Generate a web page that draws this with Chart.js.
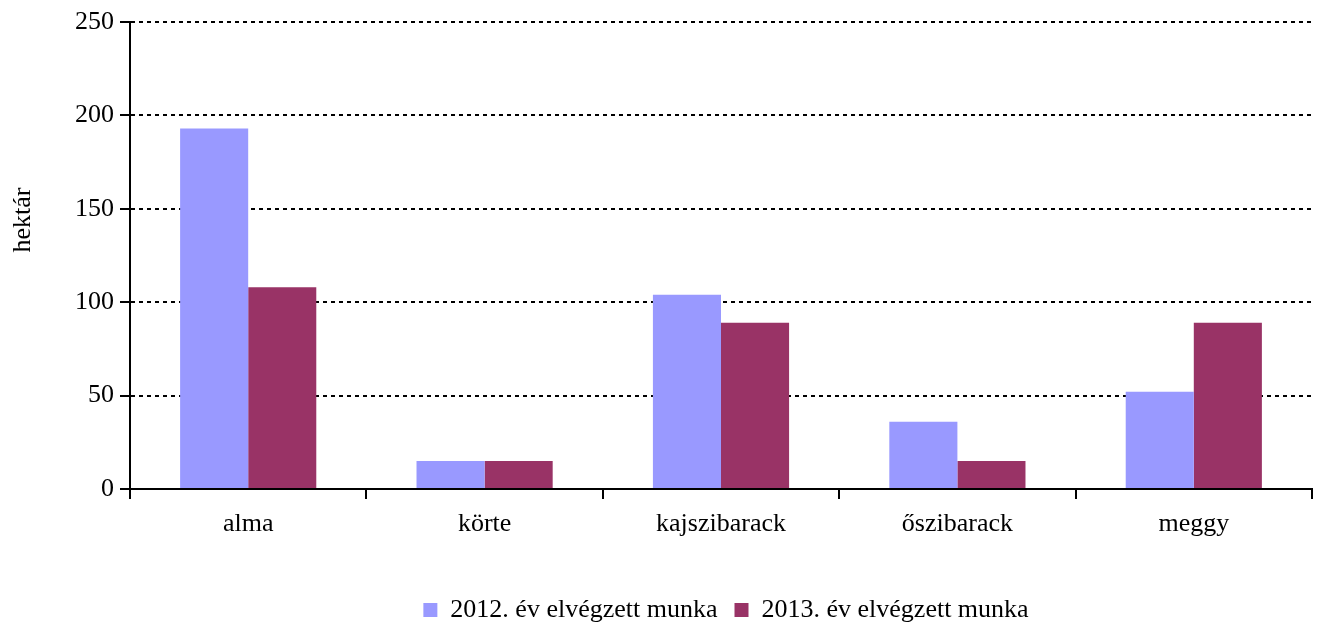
<!DOCTYPE html>
<html>
<head>
<meta charset="utf-8">
<script src="https://cdn.jsdelivr.net/npm/chart.js@4"></script>
<style>
  html, body { margin: 0; padding: 0; background: #fff; }
  #wrap { width: 1318px; height: 624px; }
</style>
</head>
<body>
<div id="wrap"><canvas id="c" width="1318" height="624"></canvas></div>
<script>
// fruit categories on the x axis
var categories = ['alma', 'körte', 'kajszibarack', 'őszibarack', 'meggy'];

// hectares per year
var work2012 = [193, 15, 104, 36, 52];
var work2013 = [108, 15, 89, 15, 89];

var seriesNames = ['2012. év elvégzett munka', '2013. év elvégzett munka'];
var yTicks = [0, 50, 100, 150, 200, 250];
var yTitle = 'hektár';

var serif = "'Liberation Serif', 'Times New Roman', serif";
Chart.defaults.font.family = serif;
Chart.defaults.font.size = 26;
Chart.defaults.color = '#000';

// y title sits a bit above the plot centre in the original, so draw it by hand
var yTitlePlugin = {
  id: 'yTitle',
  afterDraw: function (chart) {
    var ctx = chart.ctx;
    ctx.save();
    ctx.translate(23, 220);
    ctx.rotate(-Math.PI / 2);
    ctx.font = '26px ' + serif;
    ctx.fillStyle = '#000';
    ctx.textAlign = 'center';
    ctx.textBaseline = 'middle';
    ctx.fillText(yTitle, 0, 0);
    ctx.restore();
  }
};

// legend in the original is centred under the plot area, not the canvas
var legendShift = {
  id: 'legendShift',
  afterLayout: function (chart) {
    var lg = chart.legend;
    var ca = chart.chartArea;
    var d = (ca.left + ca.right) / 2 - (lg.left + lg.right) / 2 + 5;
    lg.left += d;
    lg.right += d;
  }
};

new Chart(document.getElementById('c'), {
  type: 'bar',
  data: {
    labels: categories,
    datasets: [
      { label: seriesNames[0], data: work2012, backgroundColor: '#9999FF' },
      { label: seriesNames[1], data: work2013, backgroundColor: '#993366' }
    ]
  },
  options: {
    responsive: false,
    animation: false,
    layout: { padding: { top: 22, right: 6, left: 0, bottom: -9 } },
    datasets: { bar: { categoryPercentage: 0.576, barPercentage: 1.0 } },
    plugins: {
      legend: {
        position: 'bottom',
        labels: { boxWidth: 14, boxHeight: 14, padding: 17, font: { size: 26 }, color: '#000' }
      },
      tooltip: { enabled: false }
    },
    scales: {
      x: {
        offset: true,
        grid: { drawOnChartArea: false, drawTicks: true, tickLength: 10, color: '#000', lineWidth: 2, offset: true },
        border: { color: '#000', width: 2 },
        ticks: { padding: 10, color: '#000', font: { size: 26 } },
        afterFit: function (s) { s.height = 91; }
      },
      y: {
        min: 0,
        max: 250,
        afterBuildTicks: function (s) { s.ticks = yTicks.map(function (v) { return { value: v }; }); },
        ticks: { padding: 6, color: '#000', font: { size: 26 } },
        grid: { color: '#000', lineWidth: 2, tickLength: 10, tickBorderDash: [], tickColor: '#000' },
        border: { color: '#000', width: 2, dash: [4, 4] },
        afterFit: function (s) { s.width = 130; }
      }
    }
  },
  plugins: [yTitlePlugin, legendShift]
});
</script>
</body>
</html>
